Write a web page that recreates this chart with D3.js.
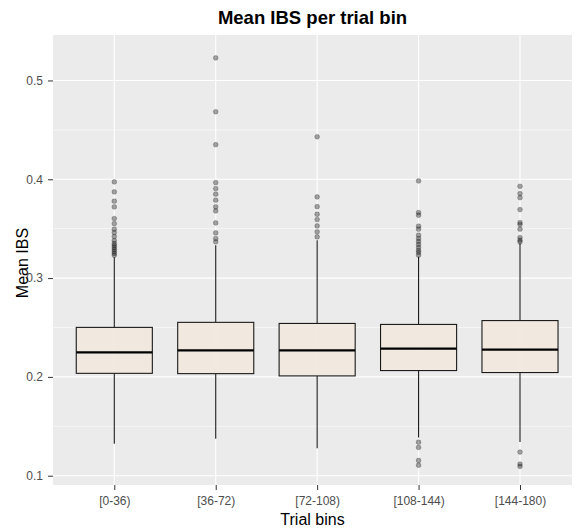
<!DOCTYPE html>
<html>
<head>
<meta charset="utf-8">
<script src="https://cdn.jsdelivr.net/npm/d3@7/dist/d3.min.js"></script>
<style>
  html, body { margin: 0; padding: 0; background: #fff; }
  svg { display: block; font-family: "Liberation Sans", Arial, sans-serif; }
</style>
</head>
<body>
<svg id="chart" width="577" height="531"></svg>
<script>
// ---- data ----
const categories = ["[0-36)", "[36-72)", "[72-108)", "[108-144)", "[144-180)"];
const q1 = [0.2036, 0.2033, 0.2010, 0.2064, 0.2044];
const medians = [0.2249, 0.2269, 0.2269, 0.2286, 0.2276];
const q3 = [0.2501, 0.2552, 0.2541, 0.2531, 0.2570];
const whiskerLow = [0.1323, 0.1374, 0.1279, 0.1387, 0.1340];
const whiskerHigh = [0.3210, 0.3333, 0.3384, 0.3215, 0.3350];
const outliers = [
  [0.3973, 0.3872, 0.3778, 0.3720, 0.3602, 0.3551, 0.3495, 0.3460, 0.3420, 0.3380, 0.3350, 0.3330, 0.3310, 0.3290, 0.3270, 0.3250, 0.3230],
  [0.5228, 0.4683, 0.4350, 0.3966, 0.3905, 0.3849, 0.3788, 0.3720, 0.3680, 0.3558, 0.3457, 0.3400, 0.3367],
  [0.4430, 0.3821, 0.3723, 0.3646, 0.3592, 0.3528, 0.3468, 0.3417],
  [0.3983, 0.3663, 0.3636, 0.3525, 0.3495, 0.3434, 0.3400, 0.3370, 0.3340, 0.3310, 0.3280, 0.3260, 0.3232, 0.1339, 0.1286, 0.1154, 0.1106],
  [0.3929, 0.3855, 0.3814, 0.3693, 0.3562, 0.3542, 0.3495, 0.3410, 0.3384, 0.3364, 0.1239, 0.1118, 0.1094]
];
const yTicks = [0.1, 0.2, 0.3, 0.4, 0.5];
const yMinor = [0.15, 0.25, 0.35, 0.45];
const titleText = "Mean IBS per trial bin";
const xTitle = "Trial bins";
const yTitle = "Mean IBS";

// ---- layout ----
const panel = { left: 53, right: 572, top: 35, bottom: 485 };
const svg = d3.select("#chart");

const x = d3.scalePoint().domain(categories).range([114.3, 520]);
const step = x.step();
const boxW = step * 0.75;
const y = d3.scaleLinear().domain([0.0906, 0.546]).range([panel.bottom, panel.top]);

// panel background
svg.append("rect")
  .attr("x", panel.left).attr("y", panel.top)
  .attr("width", panel.right - panel.left).attr("height", panel.bottom - panel.top)
  .attr("fill", "#EBEBEB");

const grid = svg.append("g");
grid.selectAll("line.minor").data(yMinor).join("line")
  .attr("x1", panel.left).attr("x2", panel.right)
  .attr("y1", d => y(d)).attr("y2", d => y(d))
  .attr("stroke", "#fff").attr("stroke-width", 0.55);
grid.selectAll("line.majory").data(yTicks).join("line")
  .attr("x1", panel.left).attr("x2", panel.right)
  .attr("y1", d => y(d)).attr("y2", d => y(d))
  .attr("stroke", "#fff").attr("stroke-width", 1.1);
grid.selectAll("line.majorx").data(categories).join("line")
  .attr("x1", d => x(d)).attr("x2", d => x(d))
  .attr("y1", panel.top).attr("y2", panel.bottom)
  .attr("stroke", "#fff").attr("stroke-width", 1.1);

// boxes
const boxes = categories.map((c, i) => ({
  c, q1: q1[i], med: medians[i], q3: q3[i], lo: whiskerLow[i], hi: whiskerHigh[i], out: outliers[i]
}));

const g = svg.append("g");
boxes.forEach(b => {
  const cx = x(b.c);
  g.append("line").attr("x1", cx).attr("x2", cx).attr("y1", y(b.q3)).attr("y2", y(b.hi))
    .attr("stroke", "#1a1a1a").attr("stroke-width", 1.1);
  g.append("line").attr("x1", cx).attr("x2", cx).attr("y1", y(b.q1)).attr("y2", y(b.lo))
    .attr("stroke", "#1a1a1a").attr("stroke-width", 1.1);
  g.append("rect").attr("x", cx - boxW / 2).attr("y", y(b.q3))
    .attr("width", boxW).attr("height", y(b.q1) - y(b.q3))
    .attr("fill", "#F1E8DE").attr("fill-opacity", 0.95)
    .attr("stroke", "#1a1a1a").attr("stroke-width", 1.1);
  g.append("line").attr("x1", cx - boxW / 2).attr("x2", cx + boxW / 2)
    .attr("y1", y(b.med)).attr("y2", y(b.med))
    .attr("stroke", "#000").attr("stroke-width", 2.2);
  g.selectAll(null).data(b.out).join("circle")
    .attr("cx", cx).attr("cy", d => y(d)).attr("r", 2.4)
    .attr("fill", "#000").attr("fill-opacity", 0.35)
    .attr("stroke", "#000").attr("stroke-opacity", 0.35).attr("stroke-width", 0.6);
});

// axes
const yAxis = d3.axisLeft(y).tickValues(yTicks).tickFormat(d3.format(".1f")).tickSize(5).tickPadding(5);
const yg = svg.append("g").attr("transform", `translate(${panel.left},0)`).call(yAxis);
yg.select(".domain").remove();
yg.selectAll("line").attr("stroke", "#333");
yg.selectAll("text").attr("fill", "#4D4D4D").style("font-size", "12px");

const xAxis = d3.axisBottom(x).tickSize(5).tickPadding(6);
const xg = svg.append("g").attr("transform", `translate(0,${panel.bottom})`).call(xAxis);
xg.select(".domain").remove();
xg.selectAll("line").attr("stroke", "#333");
xg.selectAll("text").attr("fill", "#4D4D4D").style("font-size", "12px");

const cxPanel = (panel.left + panel.right) / 2;
svg.append("text").attr("x", cxPanel).attr("y", 525)
  .attr("text-anchor", "middle").style("font-size", "16px").attr("fill", "#000").text(xTitle);
svg.append("text")
  .attr("transform", `translate(28,${(panel.top + panel.bottom) / 2 + 3}) rotate(-90)`)
  .attr("text-anchor", "middle").style("font-size", "16px").attr("fill", "#000").text(yTitle);
svg.append("text").attr("x", cxPanel).attr("y", 24)
  .attr("text-anchor", "middle").style("font-size", "18.5px").style("font-weight", "bold")
  .attr("fill", "#000").text(titleText);
</script>
</body>
</html>
